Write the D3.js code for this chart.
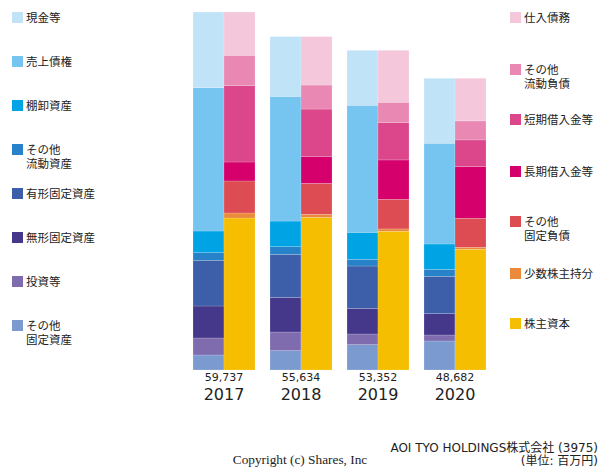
<!DOCTYPE html>
<html><head><meta charset="utf-8">
<script src="https://cdn.jsdelivr.net/npm/d3@7"></script>
<style>body{margin:0;background:#fff}</style>
</head><body>
<svg id="c" width="600" height="470"></svg>
<script>
const years = ["2017","2018","2019","2020"];
const totals = [59737, 55634, 53352, 48682];
// assets (bottom to top)
const assetNames = ["その他固定資産","投資等","無形固定資産","有形固定資産","その他流動資産","棚卸資産","売上債権","現金等"];
const otherFixedAssets = [2503, 3226, 4227, 4839];
const investments      = [2837, 3115, 1780, 1001];
const intangible       = [5340, 5785, 4283, 3560];
const tangible         = [7626, 7175, 7064, 6230];
const otherCurrentA    = [1268, 1274, 1112, 1168];
const inventory        = [3621, 4283, 4505, 4227];
const receivables      = [23910, 20800, 21204, 16811];
const cash             = [12632, 9976, 9177, 10846];
// liabilities & equity (bottom to top)
const liabNames = ["株主資本","少数株主持分","その他固定負債","長期借入金等","短期借入金等","その他流動負債","仕入債務"];
const equity           = [25363, 25470, 23149, 20148];
const minority         = [834, 500, 389, 334];
const otherFixedL      = [5340, 5173, 4950, 4839];
const longDebt         = [3170, 4505, 6564, 8621];
const shortDebt        = [12732, 7897, 6230, 4450];
const otherCurrentL    = [5073, 4005, 3393, 3170];
const payables         = [7225, 8084, 8677, 7120];

const assetSeries = [otherFixedAssets, investments, intangible, tangible, otherCurrentA, inventory, receivables, cash];
const liabSeries = [equity, minority, otherFixedL, longDebt, shortDebt, otherCurrentL, payables];
const assetColors = ["#7b9bd0","#7e6cae","#45378a","#3d5ea9","#2782c9","#00a4e4","#76c4f0","#c0e3f8"];
const liabColors = ["#f5be00","#eb8a3a","#dd4b53","#d5006c","#dc478c","#e888b3","#f4c7db"];

const svg = d3.select("#c");
const font = "'DejaVu Sans','Noto Sans CJK JP',sans-serif";
const y = d3.scaleLinear().domain([0, 59737]).range([370, 12]);
const x = d3.scalePoint().domain(years).range([224, 455]);
const half = 31;

function rows(series){ return years.map((yr,i)=>{ const o={year:yr}; series.forEach((s,k)=>o["k"+k]=s[i]); return o; }); }
function drawStack(series, colors, offset){
  const keys = series.map((s,k)=>"k"+k);
  const st = d3.stack().keys(keys)(rows(series));
  st.forEach((layer,k)=>{
    svg.append("g").selectAll("rect").data(layer).join("rect")
      .attr("x", d=>x(d.data.year)+offset)
      .attr("width", half)
      .attr("y", d=>y(d[1]))
      .attr("height", d=>y(d[0])-y(d[1]))
      .attr("fill", colors[k])
      .attr("stroke","rgba(255,255,255,0.35)").attr("stroke-width",0.5);
  });
}
drawStack(assetSeries, assetColors, -half);
drawStack(liabSeries, liabColors, 0);

// totals and years
svg.append("g").selectAll("text").data(years).join("text")
  .attr("x", d=>x(d)).attr("y", 381).attr("text-anchor","middle")
  .attr("font-family", font).attr("font-size", 11).attr("fill","#222")
  .text((d,i)=>d3.format(",")(totals[i]));
svg.append("g").selectAll("text").data(years).join("text")
  .attr("x", d=>x(d)).attr("y", 400).attr("text-anchor","middle")
  .attr("font-family", font).attr("font-size", 16).attr("fill","#222")
  .text(d=>d);

// legends
const leftLegend = [["現金等"],["売上債権"],["棚卸資産"],["その他","流動資産"],["有形固定資産"],["無形固定資産"],["投資等"],["その他","固定資産"]];
const leftLegendColors = assetColors.slice().reverse();
leftLegend.forEach((lines,i)=>{
  const cy = 18 + i*44;
  svg.append("rect").attr("x",12).attr("y",cy-6).attr("width",11).attr("height",11).attr("fill",leftLegendColors[i]);
  lines.forEach((t,j)=>svg.append("text").attr("x",26).attr("y",cy+4+j*14)
    .attr("font-family",font).attr("font-size",11.5).attr("fill","#222").text(t));
});
const rightLegend = [["仕入債務"],["その他","流動負債"],["短期借入金等"],["長期借入金等"],["その他","固定負債"],["少数株主持分"],["株主資本"]];
const rightLegendColors = liabColors.slice().reverse();
const rightY = [18,70,120,172,222,274,324];
rightLegend.forEach((lines,i)=>{
  const cy = rightY[i];
  svg.append("rect").attr("x",510).attr("y",cy-6).attr("width",11).attr("height",11).attr("fill",rightLegendColors[i]);
  lines.forEach((t,j)=>svg.append("text").attr("x",524).attr("y",cy+4+j*14)
    .attr("font-family",font).attr("font-size",11.5).attr("fill","#222").text(t));
});

// footer
svg.append("text").attr("x",598).attr("y",452).attr("text-anchor","end")
  .attr("font-family",font).attr("font-size",12).attr("fill","#222").text("AOI TYO HOLDINGS株式会社 (3975)");
svg.append("text").attr("x",598).attr("y",465).attr("text-anchor","end")
  .attr("font-family",font).attr("font-size",12).attr("fill","#222").text("(単位: 百万円)");
svg.append("text").attr("x",300).attr("y",464).attr("text-anchor","middle")
  .attr("font-family","'Liberation Serif','DejaVu Serif',serif").attr("font-size",13.3).attr("fill","#222").text("Copyright (c) Shares, Inc");
</script>
</body></html>
